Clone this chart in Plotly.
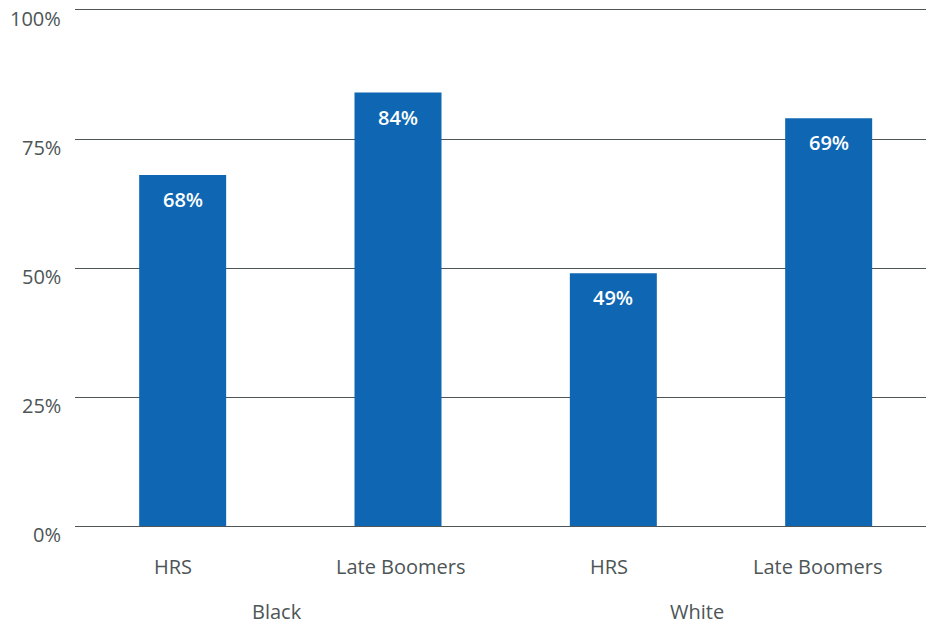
import plotly.graph_objects as go

categories = ["HRS", "Late Boomers", "HRS", "Late Boomers"]
groups = ["Black", "White"]
values = [68, 84, 49, 79]
value_labels = ["68%", "84%", "49%", "69%"]
y_ticks = [0, 25, 50, 75, 100]
y_tick_labels = ["0%", "25%", "50%", "75%", "100%"]

FONT = "Open Sans"
GRAY = "#4d5556"
BLUE = "#0f67b3"
cat_shift = [-9.5, 3, -4.5, -11]
grp_shift = [-13, -24]

x = list(range(len(categories)))
fig = go.Figure()
fig.add_trace(go.Bar(x=x, y=values, marker=dict(color=BLUE, line=dict(width=0)),
                     width=0.404, hoverinfo="skip"))

annotations = []
for xi, v, lab in zip(x, values, value_labels):
    annotations.append(dict(x=xi, y=v, xref="x", yref="y", text=lab, showarrow=False,
                            yanchor="top", yshift=-9,
                            font=dict(family=FONT, size=20, color="white", weight=600)))
for xi, c, s in zip(x, categories, cat_shift):
    annotations.append(dict(x=xi, y=0, xref="x", yref="paper", text=c, showarrow=False,
                            yanchor="middle", yshift=-40, xshift=s,
                            font=dict(family=FONT, size=20, color=GRAY)))
for gi, (g, s) in enumerate(zip(groups, grp_shift)):
    annotations.append(dict(x=gi * 2 + 0.5, y=0, xref="x", yref="paper", text=g, showarrow=False,
                            yanchor="middle", yshift=-85, xshift=s, borderpad=0,
                            font=dict(family=FONT, size=20, color=GRAY)))
for t, lab in zip(y_ticks, y_tick_labels):
    annotations.append(dict(x=0, y=t, xref="paper", yref="y", text=lab, showarrow=False,
                            xanchor="right", yanchor="middle", xshift=-13, yshift=-8.5,
                            borderpad=0, font=dict(family=FONT, size=20, color=GRAY)))

fig.update_layout(
    width=926, height=626,
    margin=dict(l=75, r=0, t=10, b=100),
    paper_bgcolor="white", plot_bgcolor="white",
    showlegend=False,
    annotations=annotations,
    xaxis=dict(range=[-0.5, 3.452], showticklabels=False, showgrid=False, zeroline=False,
               showline=True, mirror=True, linecolor=GRAY, linewidth=1, ticks=""),
    yaxis=dict(range=[0, 100], tickvals=y_ticks, showticklabels=False,
               showgrid=True, gridcolor=GRAY, gridwidth=1, zeroline=False, showline=False,
               ticks=""),
)
fig.write_html("out.html")
